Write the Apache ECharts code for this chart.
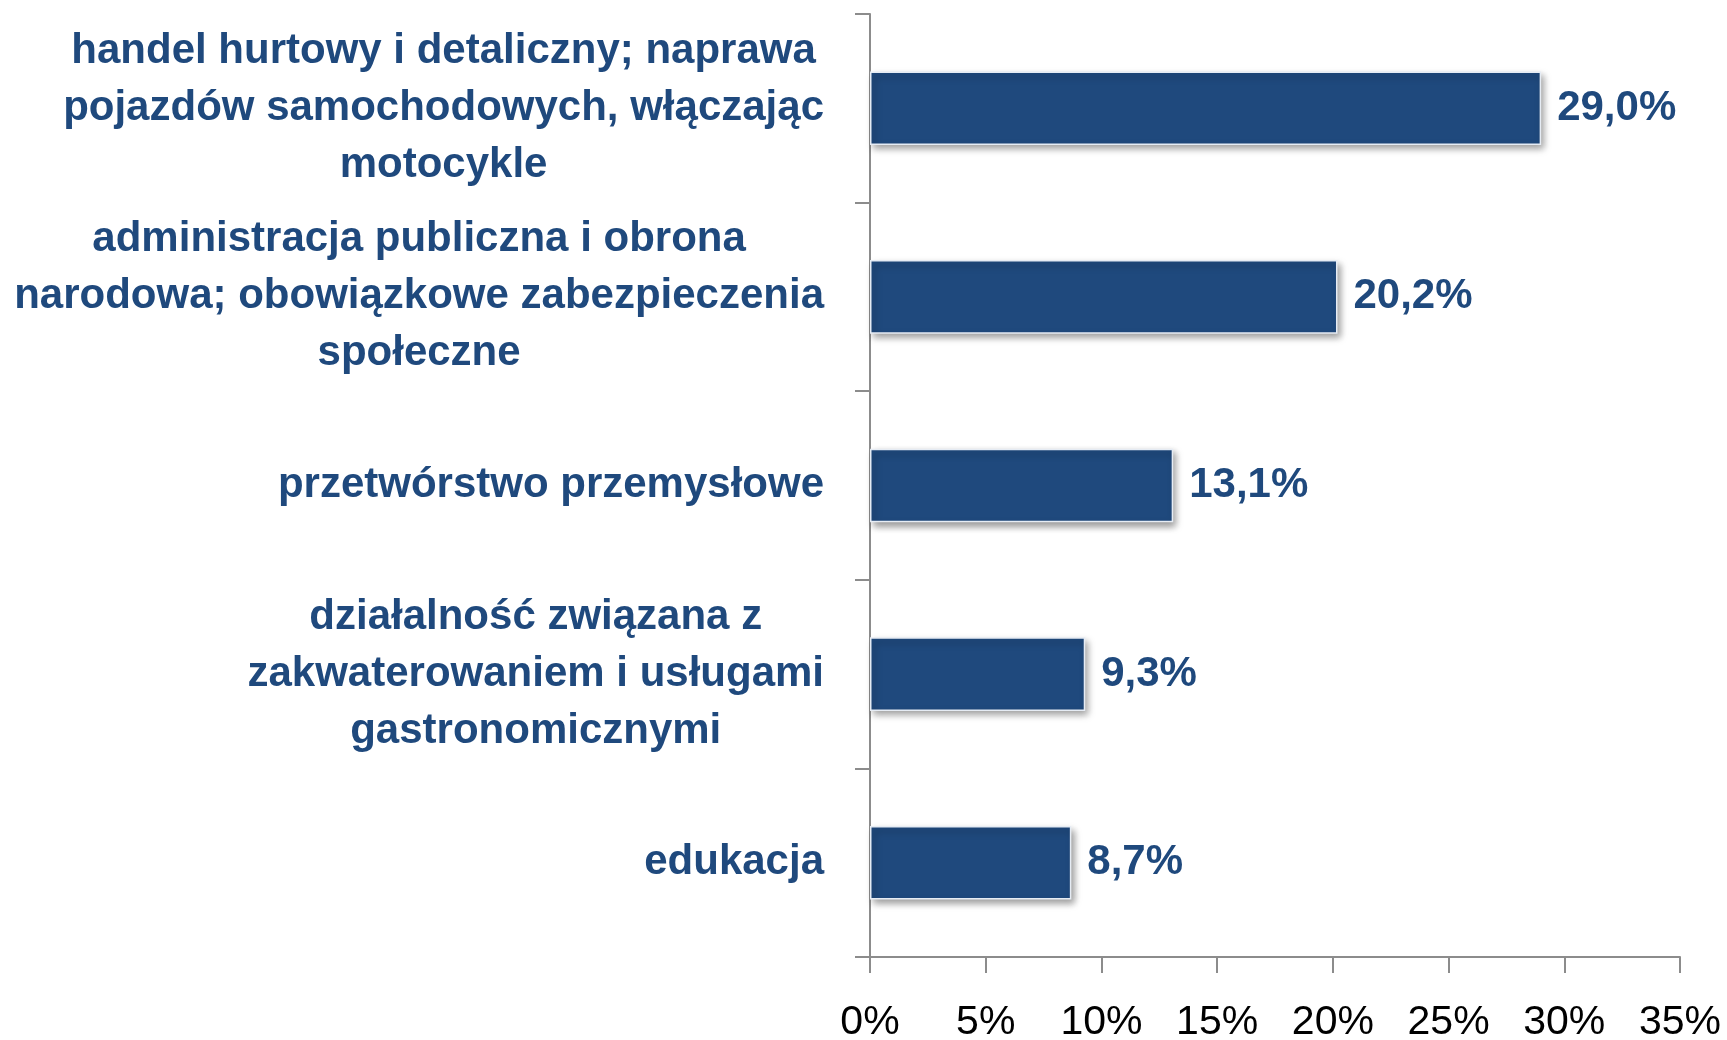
<!DOCTYPE html>
<html>
<head>
<meta charset="utf-8">
<script src="https://cdn.jsdelivr.net/npm/echarts@6/dist/echarts.min.js"></script>
<style>
  html, body { margin: 0; padding: 0; background: #fff; }
  #chart { width: 1727px; height: 1040px; }
</style>
</head>
<body>
<div id="chart"></div>
<script>
// kategorie (od góry) i udziały w %
const categories = [
    'handel hurtowy i detaliczny; naprawa\npojazdów samochodowych, włączając\nmotocykle',
    'administracja publiczna i obrona\nnarodowa; obowiązkowe zabezpieczenia\nspołeczne',
    'przetwórstwo przemysłowe',
    'działalność związana z\nzakwaterowaniem i usługami\ngastronomicznymi',
    'edukacja'
];
const shares = [29.0, 20.2, 13.1, 9.3, 8.7];
const xTicks = [0, 5, 10, 15, 20, 25, 30, 35];

const navy = '#1F497D';
const font = '"Liberation Sans", Arial, sans-serif';

let myChart = echarts.init(document.getElementById('chart'));
let option = {
    animation: false,
    grid: { left: 870, right: 47, top: 14, bottom: 83, outerBoundsMode: 'none' },
    xAxis: {
        type: 'value',
        min: xTicks[0],
        max: xTicks[xTicks.length - 1],
        interval: 5,
        splitLine: { show: false },
        axisLine: { show: true, lineStyle: { color: '#8c8c8c', width: 2 } },
        axisTick: { show: true, length: 16, lineStyle: { color: '#8c8c8c', width: 2 } },
        axisLabel: {
            margin: 45,
            color: '#000',
            fontFamily: font,
            fontSize: 41,
            formatter: v => v + '%'
        }
    },
    yAxis: {
        type: 'category',
        inverse: true,
        data: categories,
        axisLine: { show: true, lineStyle: { color: '#8c8c8c', width: 2 } },
        axisTick: { show: true, length: 15, lineStyle: { color: '#8c8c8c', width: 2 } },
        axisLabel: {
            margin: 46,
            formatter: v => v.split('\n').map(s => '{c|' + s + '}').join('\n'),
            rich: {
                c: {
                    align: 'center',
                    color: navy,
                    fontFamily: font,
                    fontWeight: 'bold',
                    fontSize: 42,
                    lineHeight: 57
                }
            }
        }
    },
    series: [{
        type: 'bar',
        data: shares,
        barWidth: '39%',
        itemStyle: {
            color: navy,
            borderColor: '#e6ecf4',
            borderWidth: 1.5,
            shadowColor: 'rgba(0,0,0,0.4)',
            shadowBlur: 7,
            shadowOffsetX: 3,
            shadowOffsetY: 4
        },
        label: {
            show: true,
            position: 'right',
            distance: 16,
            color: navy,
            fontFamily: font,
            fontWeight: 'bold',
            fontSize: 42,
            formatter: p => p.value.toFixed(1).replace('.', ',') + '%'
        }
    }]
};
myChart.setOption(option);
</script>
</body>
</html>
